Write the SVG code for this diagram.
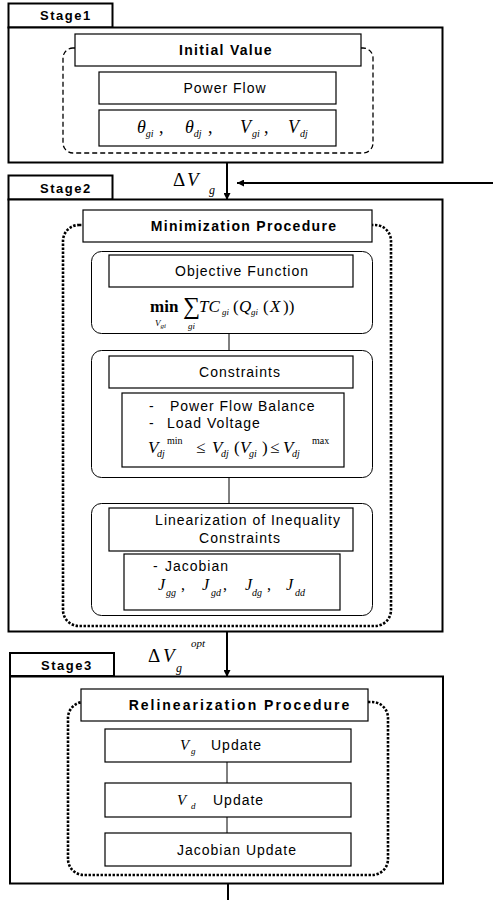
<svg xmlns="http://www.w3.org/2000/svg" width="493" height="900" viewBox="0 0 493 900">
<defs>
<style>
.frame{fill:#fff;stroke:#000;stroke-width:2}
.box{fill:#fff;stroke:#000;stroke-width:1.2}
.grp{fill:none;stroke:#000;stroke-width:1}
.dash{fill:none;stroke:#000;stroke-width:1.3;stroke-dasharray:5 3}
.dot{fill:none;stroke:#000;stroke-width:2.6;stroke-dasharray:2.4 1.6}
.tab{font-family:"Liberation Sans",Arial,sans-serif;font-weight:bold;font-size:13px;letter-spacing:1.5px}
.hd{font-family:"Liberation Sans",Arial,sans-serif;font-weight:bold;font-size:14px;letter-spacing:1.3px;text-anchor:middle}
.lb{font-family:"Liberation Sans",Arial,sans-serif;font-size:14px;letter-spacing:1px}
.c{text-anchor:middle}
.m{font-family:"Liberation Serif","Times New Roman",serif;font-style:italic}
.r{font-family:"Liberation Serif","Times New Roman",serif}
.ln{stroke:#000;stroke-width:1;fill:none}
.th{stroke:#000;stroke-width:2;fill:none}
</style>
<marker id="ah" viewBox="0 0 10 10" refX="10" refY="5" markerWidth="7" markerHeight="7" markerUnits="userSpaceOnUse" orient="auto">
<path d="M0,0 L10,5 L0,10 z" fill="#000"/>
</marker>
</defs>

<!-- Stage 1 -->
<g id="stage1">
<rect class="frame" x="8.5" y="3.5" width="104" height="24"/>
<text class="tab" x="40" y="20">Stage1</text>
<rect class="frame" x="8.5" y="27.5" width="434" height="135"/>
<rect class="dash" x="63" y="48" width="310" height="105" rx="10"/>
<g id="initial-value">
<rect class="box" x="75" y="34" width="286" height="32"/>
<text class="hd" x="226" y="55">Initial Value</text>
</g>
<g id="power-flow">
<rect class="box" x="99" y="72" width="237" height="32"/>
<text class="lb c" x="225" y="93">Power Flow</text>
</g>
<g id="init-vars">
<rect class="box" x="99" y="110" width="237" height="36"/>
<text class="m" font-size="18" y="133"><tspan x="137">θ</tspan><tspan font-size="10" dy="4">gi</tspan><tspan class="r" font-style="normal" dy="-4" x="159">,</tspan><tspan x="185">θ</tspan><tspan font-size="10" dy="4">dj</tspan><tspan font-style="normal" dy="-4" x="208">,</tspan><tspan x="240">V</tspan><tspan font-size="10" dy="4" x="252">gi</tspan><tspan font-style="normal" dy="-4" x="264">,</tspan><tspan x="288">V</tspan><tspan font-size="10" dy="4" x="300">dj</tspan></text>
</g>
</g>

<!-- Stage 2 -->
<g id="stage2">
<rect class="frame" x="8.5" y="175.5" width="104" height="24"/>
<text class="tab" x="40" y="193">Stage2</text>
<rect class="frame" x="8.5" y="199.5" width="434" height="432"/>
<rect class="dot" x="63" y="225" width="328" height="401" rx="16"/>
<g id="minimization">
<rect class="box" x="83" y="210" width="289" height="32"/>
<text class="hd" x="244" y="231">Minimization Procedure</text>
</g>
<g id="objective">
<rect class="grp" x="91.5" y="251.5" width="281" height="82" rx="10"/>
<rect class="box" x="109" y="255" width="244" height="32"/>
<text class="lb c" x="242" y="276">Objective Function</text>
<text class="r" font-size="17" y="312"><tspan x="150" font-weight="bold">min</tspan><tspan x="183" font-size="24" dy="2">∑</tspan><tspan class="m" x="199" dy="-2">TC</tspan><tspan class="m" font-size="9" dy="3" x="222">gi</tspan><tspan dy="-3" x="233">(</tspan><tspan class="m" x="239">Q</tspan><tspan class="m" font-size="9" dy="3" x="251">gi</tspan><tspan dy="-3" x="263">(</tspan><tspan class="m" x="270">X</tspan><tspan x="283">))</tspan></text>
<text class="m" font-size="9" x="155" y="326">V<tspan font-size="7" dy="2">gi</tspan></text>
<text class="m" font-size="9" x="188" y="329">gi</text>
</g>
<g id="constraints">
<rect class="grp" x="91.5" y="350.5" width="281" height="127" rx="10"/>
<rect class="box" x="109" y="356" width="244" height="32"/>
<text class="lb c" x="240" y="377">Constraints</text>
<rect class="box" x="122" y="393" width="222" height="74"/>
<text class="lb" x="149" y="411">-<tspan x="170">Power Flow Balance</tspan></text>
<text class="lb" x="149" y="428">-<tspan x="167">Load Voltage</tspan></text>
<text class="r" font-size="17" y="453"><tspan class="m" x="148">V</tspan><tspan class="m" font-size="10" dy="4" x="157">dj</tspan><tspan font-size="10" dy="-13" x="167">min</tspan><tspan dy="9" x="196">≤</tspan><tspan class="m" x="212">V</tspan><tspan class="m" font-size="10" dy="4" x="221">dj</tspan><tspan dy="-4" x="234">(</tspan><tspan class="m" x="240">V</tspan><tspan class="m" font-size="10" dy="4" x="249">gi</tspan><tspan dy="-4" x="262">)</tspan><tspan x="270">≤</tspan><tspan class="m" x="283">V</tspan><tspan class="m" font-size="10" dy="4" x="292">dj</tspan><tspan font-size="10" dy="-13" x="312">max</tspan></text>
</g>
<g id="linearization">
<rect class="grp" x="91.5" y="503.5" width="281" height="112" rx="10"/>
<rect class="box" x="109" y="508" width="244" height="43"/>
<text class="lb c" x="248" y="525">Linearization of Inequality</text>
<text class="lb c" x="240" y="543">Constraints</text>
<rect class="box" x="124" y="554" width="216" height="56"/>
<text class="lb" x="153" y="571">-<tspan x="165">Jacobian</tspan></text>
<text class="m" font-size="16" y="590"><tspan x="158">J</tspan><tspan font-size="10" dy="6" x="166">gg</tspan><tspan class="r" font-style="normal" dy="-6" x="181">,</tspan><tspan x="202">J</tspan><tspan font-size="10" dy="6" x="211">gd</tspan><tspan class="r" font-style="normal" dy="-6" x="223">,</tspan><tspan x="245">J</tspan><tspan font-size="10" dy="6" x="252">dg</tspan><tspan class="r" font-style="normal" dy="-6" x="267">,</tspan><tspan x="286">J</tspan><tspan font-size="10" dy="6" x="295">dd</tspan></text>
</g>
</g>

<!-- Stage 3 -->
<g id="stage3">
<rect class="frame" x="10" y="653" width="104" height="23"/>
<text class="tab" x="41" y="670">Stage3</text>
<rect class="frame" x="10" y="676.5" width="433" height="207"/>
<rect class="dot" x="68" y="702" width="320" height="173" rx="16"/>
<g id="relinearization">
<rect class="box" x="81" y="689" width="287" height="32"/>
<text class="hd" x="240" y="710" style="letter-spacing:2px">Relinearization Procedure</text>
</g>
<g id="vg-update">
<rect class="box" x="105" y="729" width="246" height="33"/>
<text class="lb" y="750"><tspan class="m" font-size="15" x="180">V</tspan><tspan class="m" font-size="9" dy="4" x="191">g</tspan><tspan dy="-4" x="211">Update</tspan></text>
</g>
<g id="vd-update">
<rect class="box" x="105" y="783" width="246" height="34"/>
<text class="lb" y="805"><tspan class="m" font-size="15" x="177">V</tspan><tspan class="m" font-size="9" dy="4" x="191">d</tspan><tspan dy="-4" x="213">Update</tspan></text>
</g>
<g id="jacobian-update">
<rect class="box" x="105" y="833" width="246" height="33"/>
<text class="lb c" x="237" y="855">Jacobian Update</text>
</g>
</g>

<!-- Connectors -->
<g id="connectors">
<line class="th" x1="227" y1="162" x2="227" y2="200" marker-end="url(#ah)"/>
<line class="th" x1="493" y1="183" x2="237" y2="183" marker-end="url(#ah)"/>
<line class="ln" x1="229" y1="333" x2="229" y2="350"/>
<line class="ln" x1="229" y1="477" x2="229" y2="503"/>
<line class="th" x1="227" y1="631" x2="227" y2="677" marker-end="url(#ah)"/>
<line class="ln" x1="227" y1="762" x2="227" y2="783"/>
<line class="ln" x1="227" y1="817" x2="227" y2="833"/>
<line class="th" x1="228" y1="884" x2="228" y2="900"/>
<text class="r" font-size="19" y="186"><tspan x="173">Δ</tspan><tspan class="m" x="187">V</tspan><tspan class="m" font-size="12" x="209" dy="8">g</tspan></text>
<text class="r" font-size="19" y="662"><tspan x="148">Δ</tspan><tspan class="m" x="163">V</tspan><tspan class="m" font-size="12" x="176" dy="10">g</tspan><tspan class="m" font-size="11" x="191" dy="-25">opt</tspan></text>
</g>
</svg>
